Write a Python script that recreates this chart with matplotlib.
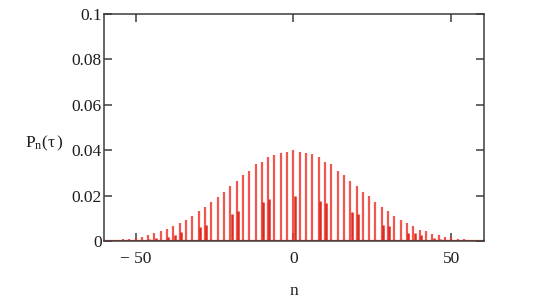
import matplotlib
matplotlib.use("Agg")
import matplotlib.pyplot as plt

# tall stems: P_n(tau) at even n
n_tall = list(range(-60, 61, 2))
p_tall = [
    0.0003, 0.0004, 0.0005, 0.0007, 0.0009, 0.0012, 0.0019, 0.0026,
    0.0034, 0.0046, 0.0052, 0.0066, 0.0078, 0.0093, 0.0110, 0.0132,
    0.0151, 0.0172, 0.0195, 0.0217, 0.0244, 0.0263, 0.0291, 0.0310,
    0.0338, 0.0350, 0.0369, 0.0379, 0.0389, 0.0393, 0.0401,
    0.0393, 0.0389, 0.0382, 0.0369, 0.0350, 0.0338, 0.0310, 0.0291,
    0.0263, 0.0244, 0.0217, 0.0198, 0.0172, 0.0151, 0.0132, 0.0110,
    0.0093, 0.0078, 0.0066, 0.0048, 0.0045, 0.0031, 0.0026, 0.0019,
    0.0016, 0.0009, 0.0007, 0.0005, 0.0004, 0.0003,
]

# short stems drawn over some of the tall ones
n_short = [-46, -44, -40, -38, -36, -30, -28, -20, -18, -10, -8, 0,
           8, 10, 18, 20, 28, 30, 36, 38, 40, 44, 46]
p_short = [0.0010, 0.0012, 0.0019, 0.0026, 0.0040, 0.0060, 0.0070,
           0.0119, 0.0132, 0.0173, 0.0184, 0.0198,
           0.0178, 0.0167, 0.0126, 0.0119, 0.0070, 0.0064,
           0.0037, 0.0033, 0.0025, 0.0012, 0.0010]

x_ticks = [-50, 0, 50]
x_labels = ["\u2212 50", "0", "50"]
y_ticks = [0, 0.02, 0.04, 0.06, 0.08, 0.1]
y_labels = ["0", "0.02", "0.04", "0.06", "0.08", "0.1"]

plt.rcParams["font.family"] = ["Liberation Serif", "DejaVu Serif"]
plt.rcParams["mathtext.fontset"] = "custom"
plt.rcParams["mathtext.rm"] = "Liberation Serif"
plt.rcParams["mathtext.it"] = "Liberation Serif:italic"

frame = "#3c3c3c"
red = "#ee3b30"
text_col = "#1e1e1e"

fig = plt.figure(figsize=(5.53, 3.05), dpi=100)
ax = fig.add_axes([0.188, 0.21, 0.688, 0.744])

ax.vlines(n_tall, 0, p_tall, color=red, lw=1.6, alpha=0.85)
ax.vlines([v + 0.4 for v in n_short], 0, p_short, color="#e02a20", lw=1.8)
ax.axhline(0, color=red, lw=1.6)

ax.set_xlim(-60, 60.5)
ax.set_ylim(0, 0.1)

ax.set_xticks(x_ticks)
ax.set_xticklabels(x_labels)
ax.set_yticks(y_ticks)
ax.set_yticklabels(y_labels)
ax.tick_params(direction="in", length=6, width=1.1, color=frame,
               top=True, right=True, labelsize=12.5, labelcolor=text_col)
ax.tick_params(axis="y", pad=1.5)
ax.tick_params(axis="x", pad=7)

for s in ax.spines.values():
    s.set_color(frame)
    s.set_linewidth(1.1)

ax.set_xlabel("n", fontsize=12.5, color=text_col, labelpad=12)
fig.text(0.045, 0.53, r"$\mathrm{P}_{\mathrm{n}}(\mathrm{\tau}\,)$",
         fontsize=12.5, color=text_col, ha="left", va="center")

fig.savefig("out.png", dpi=100)
